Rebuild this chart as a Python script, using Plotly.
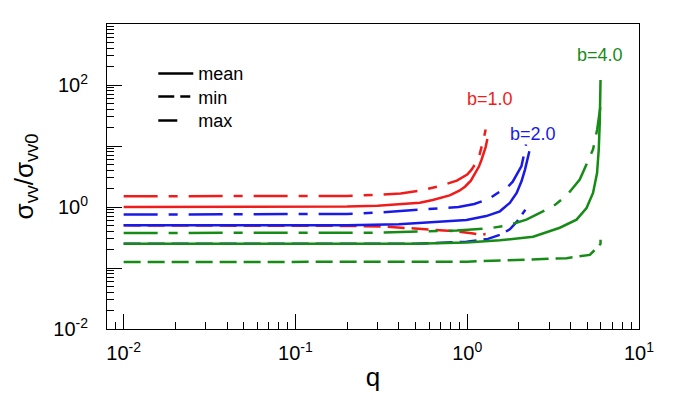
import math
import plotly.graph_objects as go

# ---------------- data ----------------
# b = 1.0
q_b1_mean = [0.01, 0.05, 0.1, 0.2, 0.3, 0.4, 0.53, 0.63, 0.79, 0.9, 0.97, 1.05, 1.11, 1.17, 1.21, 1.25, 1.28, 1.31]
s_b1_mean = [1.0, 1.0, 1.0, 1.02, 1.05, 1.1, 1.17, 1.3, 1.55, 1.85, 2.15, 2.7, 3.5, 4.6, 5.9, 7.6, 9.6, 13.0]
q_b1_max = [0.01, 0.1, 0.2, 0.3, 0.41, 0.53, 0.69, 0.87, 1.0, 1.06, 1.13, 1.18, 1.22, 1.25, 1.28]
s_b1_max = [1.5, 1.5, 1.52, 1.58, 1.66, 1.85, 2.2, 2.7, 3.4, 4.1, 5.4, 7.2, 10.0, 13.5, 18.6]
q_b1_min = [0.01, 0.1, 0.2, 0.32, 0.51, 0.63, 0.87, 1.06, 1.2, 1.28]
s_b1_min = [0.5, 0.5, 0.49, 0.48, 0.44, 0.42, 0.40, 0.37, 0.35, 0.36]

# b = 2.0
q_b2_mean = [0.01, 0.1, 0.2, 0.4, 0.63, 0.99, 1.29, 1.55, 1.77, 1.94, 2.07, 2.17, 2.3]
s_b2_mean = [0.5, 0.5, 0.5, 0.52, 0.56, 0.61, 0.71, 0.85, 1.17, 1.7, 2.64, 4.1, 8.2]
q_b2_max = [0.01, 0.1, 0.2, 0.3, 0.41, 0.51, 0.63, 0.89, 1.1, 1.33, 1.59, 1.7, 1.84, 1.94, 2.07, 2.13, 2.2]
s_b2_max = [0.75, 0.75, 0.77, 0.81, 0.86, 0.88, 0.92, 1.0, 1.12, 1.35, 1.88, 2.05, 2.6, 3.4, 4.7, 6.8, 10.6]
q_b2_min = [0.01, 0.1, 0.5, 0.99, 1.32, 1.55, 1.77, 1.94, 2.07, 2.13, 2.18]
s_b2_min = [0.25, 0.25, 0.25, 0.27, 0.30, 0.35, 0.43, 0.57, 0.72, 0.81, 0.9]

# b = 4.0
q_b4_mean = [0.01, 0.1, 0.5, 0.99, 1.55, 2.42, 3.46, 4.33, 4.95, 5.4, 5.7, 5.83, 5.91, 5.97]
s_b4_mean = [0.25, 0.25, 0.25, 0.262, 0.284, 0.325, 0.457, 0.62, 0.96, 1.7, 3.6, 8.8, 24.0, 121.0]
q_b4_max = [0.01, 0.1, 0.3, 0.87, 1.36, 1.73, 2.21, 2.65, 3.16, 3.83, 4.52, 4.95, 5.4, 5.71, 5.95]
s_b4_max = [0.375, 0.375, 0.38, 0.41, 0.45, 0.50, 0.62, 0.80, 1.02, 1.59, 2.81, 5.0, 8.8, 18.7, 43.0]
q_b4_min = [0.01, 0.1, 1.0, 3.79, 5.17, 5.6, 5.92, 5.97, 5.97]
s_b4_min = [0.125, 0.125, 0.127, 0.145, 0.164, 0.205, 0.24, 0.25, 0.29]

b_labels = ["b=1.0", "b=2.0", "b=4.0"]
b_label_q = [1.355, 2.41, 5.9]
b_label_s = [60.0, 16.0, 316.0]

x_tick_vals = [0.01, 0.1, 1, 10]
x_tick_text = ["10<sup>-2</sup>", "10<sup>-1</sup>", "10<sup>0</sup>", "10<sup>1</sup>"]
y_tick_vals = [0.01, 0.1, 1, 10, 100, 1000]
y_tick_text = ["10<sup>-2</sup>", "", "10<sup>0</sup>", "", "10<sup>2</sup>", ""]

legend_names = ["mean", "min", "max"]

# ---------------- styles ----------------
RED, BLUE, GREEN = "#f01c1c", "#1a1ae6", "#168c16"
colors = [RED, BLUE, GREEN]
DASH_MEAN = "solid"
DASH_UPPER = "34px,11px,9px,11px"
DASH_LOWER = "17px,7px"
FONT = "Arial, Liberation Sans, sans-serif"

series = [
    (q_b1_mean, s_b1_mean, q_b1_max, s_b1_max, q_b1_min, s_b1_min),
    (q_b2_mean, s_b2_mean, q_b2_max, s_b2_max, q_b2_min, s_b2_min),
    (q_b4_mean, s_b4_mean, q_b4_max, s_b4_max, q_b4_min, s_b4_min),
]

fig = go.Figure()
for col, (qm, sm, qx, sx, qn, sn) in zip(colors, series):
    fig.add_trace(go.Scatter(x=qn, y=sn, mode="lines", showlegend=False,
                             line=dict(color=col, width=2.5, dash=DASH_LOWER)))
    fig.add_trace(go.Scatter(x=qx, y=sx, mode="lines", showlegend=False,
                             line=dict(color=col, width=2.5, dash=DASH_UPPER)))
    fig.add_trace(go.Scatter(x=qm, y=sm, mode="lines", showlegend=False,
                             line=dict(color=col, width=2.5, dash=DASH_MEAN)))

# legend-only black samples, one small legend per entry
legend_dashes = ["solid", "16px,6px,10px,40px", "19px,40px"]
legend_ids = ["legend", "legend2", "legend3"]
legend_y = [0.837, 0.761, 0.683]
for name, d, lid in zip(legend_names, legend_dashes, legend_ids):
    fig.add_trace(go.Scatter(x=[None], y=[None], mode="lines", name=name, legend=lid,
                             line=dict(color="black", width=2.5, dash=d)))

for txt, qv, sv, col in zip(b_labels, b_label_q, b_label_s, colors):
    fig.add_annotation(x=math.log10(qv), y=math.log10(sv), text=txt, showarrow=False,
                       font=dict(family=FONT, size=18, color=col),
                       xanchor="center", yanchor="middle")

minor_x = []
for dec in [0.001, 0.01, 0.1, 1]:
    for k in range(2, 10):
        minor_x.append(k * dec)
minor_y = []
for dec in [0.01, 0.1, 1, 10, 100]:
    for k in range(2, 10):
        minor_y.append(k * dec)

legend_common = dict(xanchor="left", yanchor="middle", x=0.087,
                     bgcolor="rgba(0,0,0,0)", borderwidth=0, itemwidth=35,
                     font=dict(family=FONT, size=18, color="black"))

fig.update_layout(
    width=685, height=408,
    margin=dict(l=107, r=46, t=24, b=79, autoexpand=False),
    paper_bgcolor="white", plot_bgcolor="white",
    font=dict(family=FONT, color="black"),
    showlegend=True,
    legend=dict(y=legend_y[0], **legend_common),
    legend2=dict(y=legend_y[1], **legend_common),
    legend3=dict(y=legend_y[2], **legend_common),
)
fig.update_xaxes(
    type="log", range=[math.log10(0.008), 1], automargin=False,
    showline=True, linecolor="black", linewidth=1, mirror=True,
    showgrid=False, zeroline=False,
    tickmode="array", tickvals=x_tick_vals, ticktext=x_tick_text,
    ticks="inside", ticklen=15, tickwidth=1, tickcolor="black",
    ticklabelstandoff=6,
    tickfont=dict(family=FONT, size=20, color="black"),
    minor=dict(tickmode="array", tickvals=minor_x, ticks="inside", ticklen=7,
               tickwidth=1, tickcolor="black", showgrid=False),
    title=dict(text="q", font=dict(family=FONT, size=26, color="black"), standoff=4),
)
fig.update_yaxes(
    type="log", range=[-2, 3], automargin=False,
    showline=True, linecolor="black", linewidth=1, mirror=True,
    showgrid=False, zeroline=False,
    tickmode="array", tickvals=y_tick_vals, ticktext=y_tick_text,
    ticks="inside", ticklen=15, tickwidth=1, tickcolor="black",
    ticklabelstandoff=14,
    tickfont=dict(family=FONT, size=20, color="black"),
    minor=dict(tickmode="array", tickvals=minor_y, ticks="inside", ticklen=7,
               tickwidth=1, tickcolor="black", showgrid=False),
    title=dict(text="σ<sub>vv</sub>/σ<sub>vv0</sub>", font=dict(family=FONT, size=26, color="black"), standoff=12),
)

fig.write_html("out.html", config={"displayModeBar": False},
               post_script="document.body.style.margin='0';")
